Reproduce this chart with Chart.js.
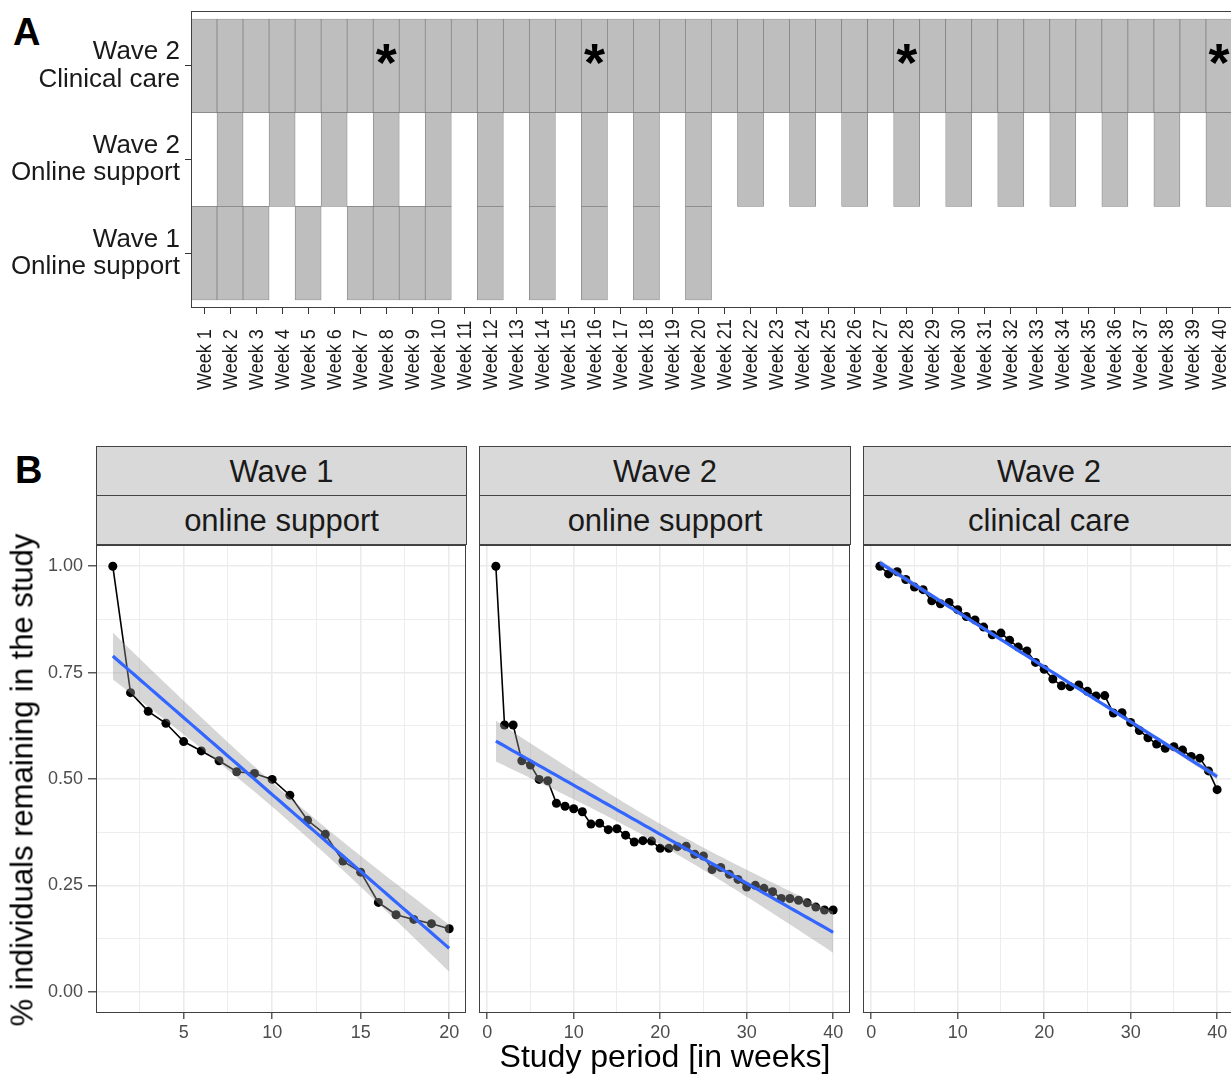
<!DOCTYPE html>
<html>
<head>
<meta charset="utf-8">
<script src="https://cdn.jsdelivr.net/npm/chart.js@4.4.1/dist/chart.umd.min.js"></script>
<style>
  html, body { margin: 0; padding: 0; background: #fff; overflow: hidden; }
  body { width: 1231px; height: 1078px; position: relative; font-family: "Liberation Sans", Arial, sans-serif; }
  canvas { position: absolute; }
  .tag { position: absolute; font-weight: bold; font-size: 38px; line-height: 38px; color: #000; }
  .strip { position: absolute; box-sizing: border-box; height: 50px; background: #d9d9d9; border: 1px solid #444;
           display: flex; align-items: center; justify-content: center; font-size: 31px; line-height: 1; color: #1a1a1a; }
  .title { position: absolute; white-space: nowrap; line-height: 1; color: #000; transform: translate(-50%, -50%); }
</style>
</head>
<body>
<div class="tag" style="left:13px; top:13px;">A</div>
<canvas id="schedule" width="1240" height="420" style="left:0; top:0;"></canvas>

<div class="tag" style="left:15px; top:451px;">B</div>
<div class="strip" style="left:96px;  top:446px; width:371px;">Wave 1</div>
<div class="strip" style="left:96px;  top:495px; width:371px;">online support</div>
<div class="strip" style="left:479px; top:446px; width:372px;">Wave 2</div>
<div class="strip" style="left:479px; top:495px; width:372px;">online support</div>
<div class="strip" style="left:863px; top:446px; width:372px;">Wave 2</div>
<div class="strip" style="left:863px; top:495px; width:372px;">clinical care</div>

<canvas id="facet1" width="470" height="533" style="left:0; top:545px;"></canvas>
<canvas id="facet2" width="375" height="533" style="left:479px; top:545px;"></canvas>
<canvas id="facet3" width="375" height="533" style="left:863px; top:545px;"></canvas>

<div class="title" style="left:22px; top:780px; font-size:31px; transform: translate(-50%, -50%) rotate(-90deg);">% individuals remaining in the study</div>
<div class="title" style="left:665px; top:1056px; font-size:32px;">Study period [in weeks]</div>

<script>
Chart.defaults.font.family = '"Liberation Sans", Arial, sans-serif';

// ---- panel A: weeks with a scheduled contact, per arm ----
const weekLabels = ['Week 1', 'Week 2', 'Week 3', 'Week 4', 'Week 5', 'Week 6', 'Week 7', 'Week 8', 'Week 9', 'Week 10',
  'Week 11', 'Week 12', 'Week 13', 'Week 14', 'Week 15', 'Week 16', 'Week 17', 'Week 18', 'Week 19', 'Week 20',
  'Week 21', 'Week 22', 'Week 23', 'Week 24', 'Week 25', 'Week 26', 'Week 27', 'Week 28', 'Week 29', 'Week 30',
  'Week 31', 'Week 32', 'Week 33', 'Week 34', 'Week 35', 'Week 36', 'Week 37', 'Week 38', 'Week 39', 'Week 40'];
const armLabels = [['Wave 1', 'Online support'], ['Wave 2', 'Online support'], ['Wave 2', 'Clinical care']];
const wave1OnlineWeeks = [1, 2, 3, 5, 7, 8, 9, 10, 12, 14, 16, 18, 20];
const wave2OnlineWeeks = [2, 4, 6, 8, 10, 12, 14, 16, 18, 20, 22, 24, 26, 28, 30, 32, 34, 36, 38, 40];
const wave2ClinicalWeeks = [1, 2, 3, 4, 5, 6, 7, 8, 9, 10, 11, 12, 13, 14, 15, 16, 17, 18, 19, 20,
  21, 22, 23, 24, 25, 26, 27, 28, 29, 30, 31, 32, 33, 34, 35, 36, 37, 38, 39, 40];
const starWeeks = [8, 16, 28, 40];

// ---- panel B: share of individuals still in the study ----
const wave1OnlineRetention = [1.000, 0.703, 0.659, 0.631, 0.588, 0.566, 0.543, 0.517, 0.513, 0.499,
  0.462, 0.403, 0.370, 0.307, 0.281, 0.210, 0.181, 0.170, 0.160, 0.148];
const wave2OnlineRetention = [1.000, 0.627, 0.627, 0.543, 0.533, 0.499, 0.496, 0.443, 0.436, 0.430,
  0.423, 0.394, 0.396, 0.381, 0.383, 0.368, 0.352, 0.355, 0.354, 0.337,
  0.337, 0.341, 0.342, 0.323, 0.319, 0.287, 0.292, 0.276, 0.264, 0.246,
  0.250, 0.243, 0.235, 0.219, 0.219, 0.215, 0.209, 0.199, 0.192, 0.192];
const wave2ClinicalRetention = [1.000, 0.982, 0.987, 0.969, 0.951, 0.945, 0.919, 0.912, 0.915, 0.898,
  0.882, 0.874, 0.857, 0.839, 0.843, 0.826, 0.810, 0.801, 0.774, 0.758,
  0.735, 0.719, 0.717, 0.721, 0.706, 0.695, 0.696, 0.655, 0.656, 0.633,
  0.614, 0.597, 0.582, 0.572, 0.576, 0.568, 0.553, 0.549, 0.519, 0.475];

const shortTicks = [2.5, 5, 7.5, 10, 12.5, 15, 17.5, 20];
const shortLabels = [5, 10, 15, 20];
const longTicks = [0, 5, 10, 15, 20, 25, 30, 35, 40];
const longLabels = [0, 10, 20, 30, 40];
const yTicks = [0, 0.125, 0.25, 0.375, 0.5, 0.625, 0.75, 0.875, 1];
const yLabels = [0, 0.25, 0.5, 0.75, 1];

// keep the plot area where the layout puts it, whatever the label sizes
const noPad = s => { s.paddingTop = 0; s.paddingBottom = 0; s.paddingLeft = 0; s.paddingRight = 0; };

// border round the plotting area
const frame = {
  id: 'frame',
  afterDraw(chart) {
    const { ctx, chartArea: a } = chart;
    ctx.save();
    ctx.strokeStyle = '#404040';
    ctx.lineWidth = 1;
    ctx.strokeRect(a.left + 0.5, a.top + 0.5, a.right - a.left - 1, a.bottom - a.top - 1);
    ctx.restore();
  }
};

// asterisks on the clinical care row, ink centred a little above the row middle
const stars = {
  id: 'stars',
  afterDatasetsDraw(chart) {
    const { ctx, scales: { x, y } } = chart;
    ctx.save();
    ctx.font = 'bold 54px "Liberation Sans", Arial, sans-serif';
    ctx.textAlign = 'center';
    ctx.textBaseline = 'alphabetic';
    ctx.fillStyle = '#000';
    const m = ctx.measureText('*');
    const lift = (m.actualBoundingBoxAscent - m.actualBoundingBoxDescent) / 2;
    const cy = y.getPixelForValue(2.5) - 11;
    starWeeks.forEach(w => ctx.fillText('*', x.getPixelForValue(w - 1), cy + lift));
    ctx.restore();
  }
};

// week names standing upright under the tiles, all starting from the same line
const weekText = {
  id: 'weekText',
  afterDraw(chart) {
    const { ctx, scales: { x } } = chart;
    ctx.save();
    ctx.font = '20px "Liberation Sans", Arial, sans-serif';
    ctx.fillStyle = '#1a1a1a';
    ctx.textAlign = 'left';
    ctx.textBaseline = 'middle';
    const base = x.top + 82;
    weekLabels.forEach((label, i) => {
      ctx.save();
      ctx.translate(x.getPixelForTick(i) + 1, base);
      ctx.rotate(-Math.PI / 2);
      ctx.scale(0.9, 1);
      ctx.fillText(label, 0, 0);
      ctx.restore();
    });
    ctx.restore();
  }
};

const arms = [wave1OnlineWeeks, wave2OnlineWeeks, wave2ClinicalWeeks];
const tileSets = arms.map((weeks, row) => ({
  data: weekLabels.map((_, i) => weeks.includes(i + 1) ? [row, row + 1] : null),
  backgroundColor: '#bebebe',
  borderColor: '#7c7c7c',
  borderWidth: 0.7,
  borderSkipped: false,
  barPercentage: 1,
  categoryPercentage: 1,
  grouped: false
}));

new Chart(document.getElementById('schedule'), {
  type: 'bar',
  data: { labels: weekLabels, datasets: tileSets },
  plugins: [frame, stars, weekText],
  options: {
    responsive: false,
    animation: false,
    layout: { padding: { top: 11, right: 8, left: 0, bottom: 0 }, autoPadding: false },
    plugins: { legend: { display: false }, tooltip: { enabled: false } },
    scales: {
      x: {
        offset: true,
        border: { display: false },
        grid: { drawOnChartArea: false, offset: false, tickLength: 6, tickColor: '#333', tickWidth: 1 },
        ticks: { display: false },
        afterFit: s => { s.height = 112; noPad(s); }
      },
      y: {
        type: 'linear', min: -0.085, max: 3.085,
        border: { display: false },
        afterBuildTicks: s => { s.ticks = [0.5, 1.5, 2.5].map(v => ({ value: v })); },
        grid: { drawOnChartArea: false, tickLength: 6, tickColor: '#333', tickWidth: 1 },
        ticks: { callback: (v, i) => armLabels[i], color: '#1a1a1a', font: { size: 26, lineHeight: 1.05 }, padding: 5 },
        afterFit: s => { s.width = 191; noPad(s); }
      }
    }
  }
});

// straight-line least-squares fit with a 95% confidence band
function linearFit(values) {
  const n = values.length;
  const mx = (n + 1) / 2;
  const my = values.reduce((s, v) => s + v, 0) / n;
  let sxx = 0, sxy = 0;
  values.forEach((v, i) => { sxx += (i + 1 - mx) ** 2; sxy += (i + 1 - mx) * (v - my); });
  const slope = sxy / sxx, icpt = my - slope * mx;
  const rss = values.reduce((s, v, i) => s + (v - icpt - slope * (i + 1)) ** 2, 0);
  const sigma = Math.sqrt(rss / (n - 2));
  const df = n - 2, t = 1.96 + 2.37 / df + 2.8 / (df * df);
  const fit = [], lo = [], hi = [];
  for (let k = 0; k < 80; k++) {
    const x = 1 + (n - 1) * k / 79;
    const yhat = icpt + slope * x;
    const se = t * sigma * Math.sqrt(1 / n + (x - mx) ** 2 / sxx);
    fit.push({ x, y: yhat });
    lo.push({ x, y: yhat - se });
    hi.push({ x, y: yhat + se });
  }
  return { fit, lo, hi };
}

function facet(id, values, xMin, xMax, xTicks, xLabels, showY) {
  const band = linearFit(values);
  const majorX = v => xLabels.includes(v);
  const majorY = v => yLabels.includes(v);
  new Chart(document.getElementById(id), {
    type: 'scatter',
    data: {
      datasets: [
        { data: band.fit, showLine: true, borderColor: '#3366ff', borderWidth: 3.2, pointRadius: 0 },
        { data: band.hi, showLine: true, borderWidth: 0, pointRadius: 0, fill: '+1', backgroundColor: 'rgba(153,153,153,0.4)' },
        { data: band.lo, showLine: true, borderWidth: 0, pointRadius: 0 },
        { data: values.map((v, i) => ({ x: i + 1, y: v })), showLine: true, borderColor: '#000', borderWidth: 1.6,
          pointRadius: 4.5, pointBackgroundColor: '#000', pointBorderWidth: 0 }
      ]
    },
    plugins: [frame],
    options: {
      responsive: false,
      animation: false,
      layout: { padding: { top: 0, right: 4, left: 0, bottom: 0 }, autoPadding: false },
      plugins: { legend: { display: false }, tooltip: { enabled: false } },
      scales: {
        x: {
          type: 'linear', min: xMin, max: xMax,
          border: { display: false },
          afterBuildTicks: s => { s.ticks = xTicks.map(v => ({ value: v })); },
          grid: {
            color: '#ebebeb',
            lineWidth: c => majorX(c.tick.value) ? 1.6 : 0.9,
            tickLength: 6, tickWidth: 1.2,
            tickColor: c => majorX(c.tick.value) ? '#333' : 'rgba(0,0,0,0)'
          },
          ticks: { autoSkip: false, maxRotation: 0, color: '#4d4d4d', font: { size: 18 }, padding: 3,
                   callback: v => majorX(v) ? String(v) : '' },
          afterFit: s => { s.height = 65; noPad(s); }
        },
        y: {
          type: 'linear', min: -0.05, max: 1.05,
          border: { display: false },
          afterBuildTicks: s => { s.ticks = yTicks.map(v => ({ value: v })); },
          grid: {
            color: '#ebebeb',
            lineWidth: c => majorY(c.tick.value) ? 1.6 : 0.9,
            drawTicks: showY, tickLength: 8, tickWidth: 1.2,
            tickColor: c => majorY(c.tick.value) ? '#333' : 'rgba(0,0,0,0)'
          },
          ticks: { display: showY, color: '#4d4d4d', font: { size: 18 }, padding: 5,
                   callback: v => majorY(v) ? v.toFixed(2) : '' },
          afterFit: s => { s.width = showY ? 96 : 0; noPad(s); }
        }
      }
    }
  });
}

facet('facet1', wave1OnlineRetention, 0.05, 20.95, shortTicks, shortLabels, true);
facet('facet2', wave2OnlineRetention, -0.95, 41.95, longTicks, longLabels, false);
facet('facet3', wave2ClinicalRetention, -0.95, 41.95, longTicks, longLabels, false);
</script>
</body>
</html>
